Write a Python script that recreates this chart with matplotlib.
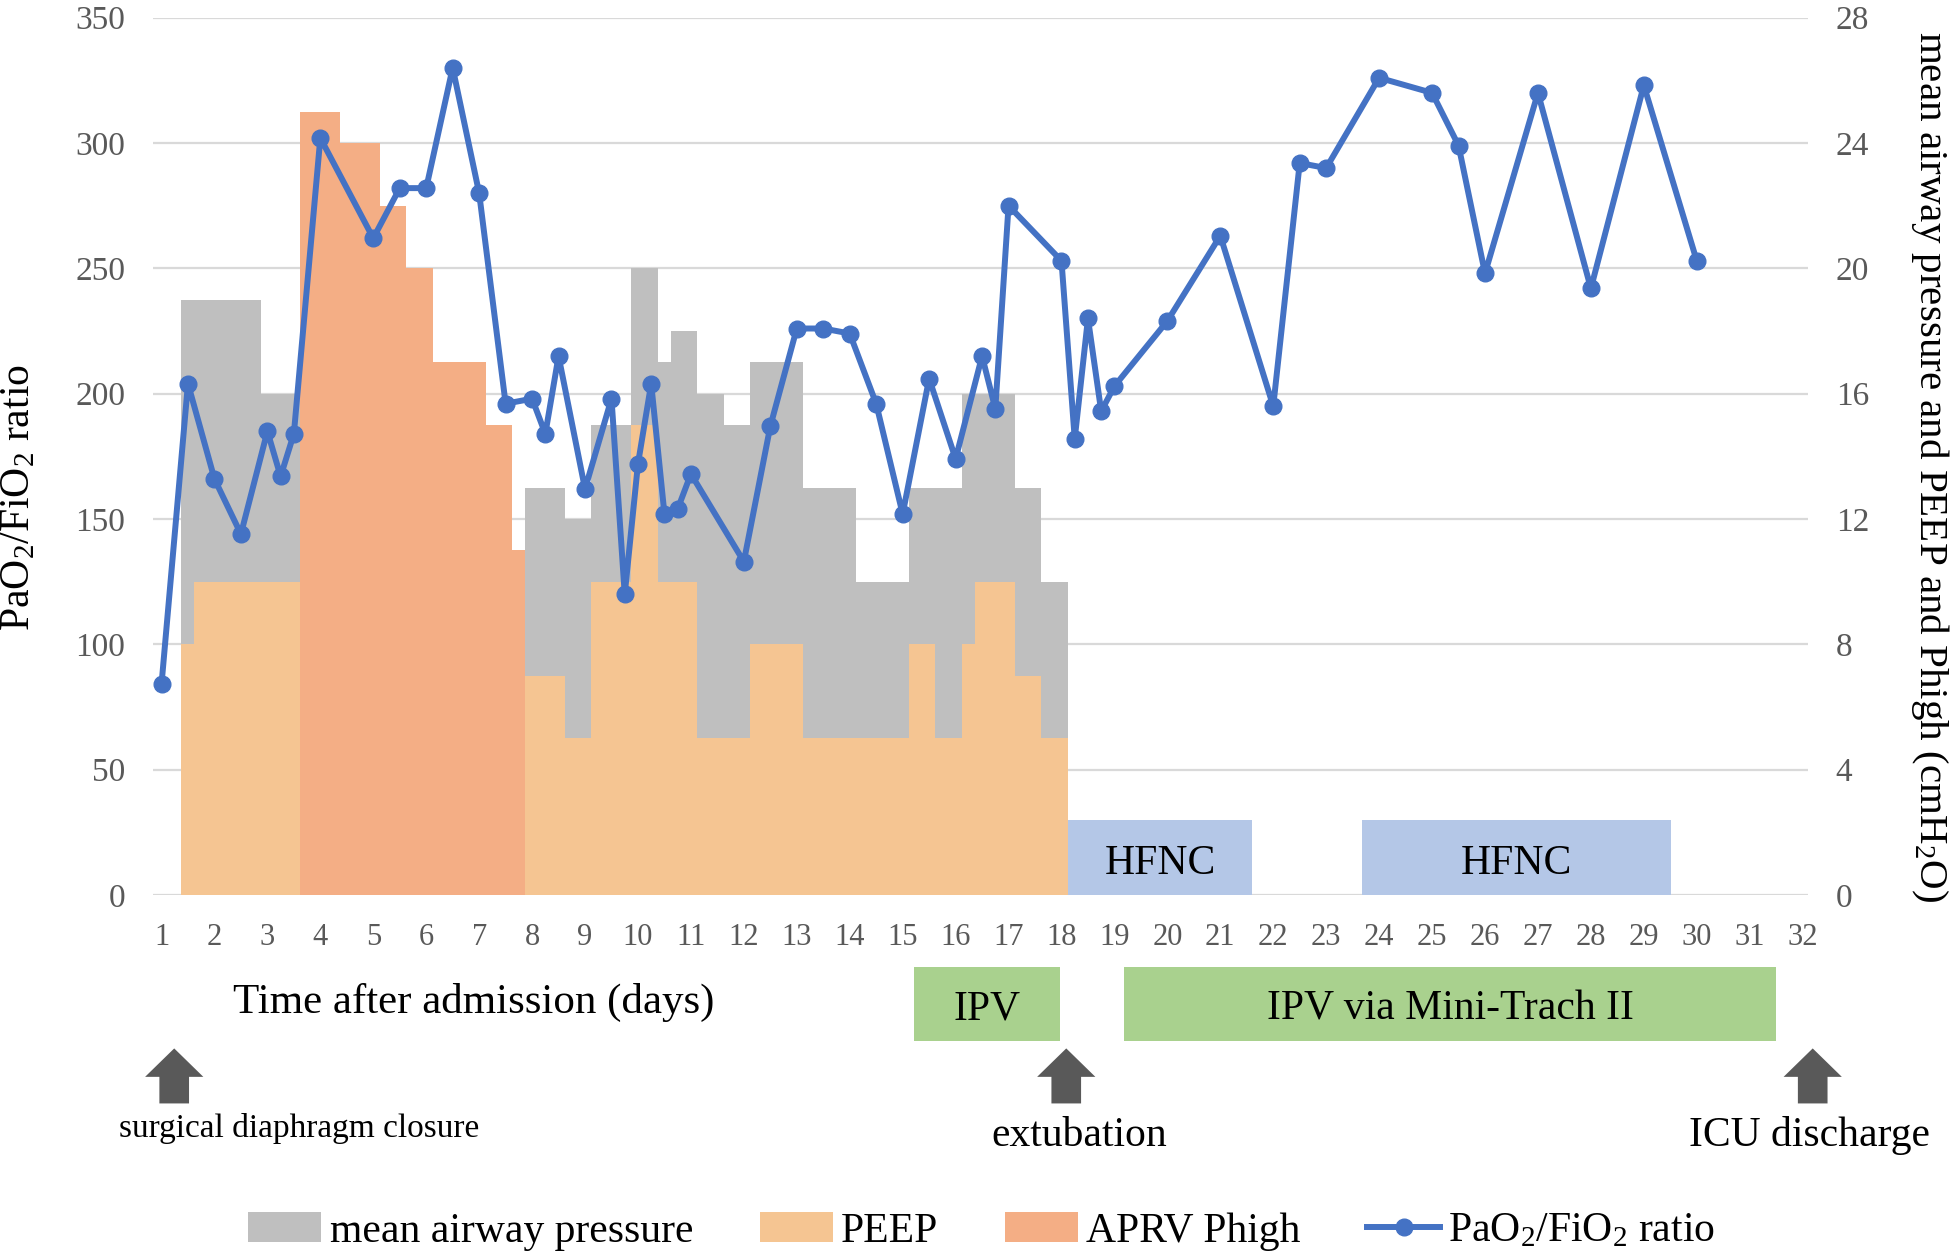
import numpy as np
import matplotlib.pyplot as plt
from matplotlib.patches import Patch, Polygon, Rectangle
from matplotlib.lines import Line2D

plt.rcParams['font.family'] = ['Liberation Serif', 'DejaVu Serif']
plt.rcParams['mathtext.fontset'] = 'custom'
plt.rcParams['mathtext.rm'] = 'Liberation Serif'
plt.rcParams['mathtext.it'] = 'Liberation Serif:italic'

# ventilator settings (cmH2O), step values between consecutive edges (days)
step_edges = [1.37, 1.62, 2.87, 3.62, 4.37, 5.12, 5.62, 6.12, 7.12, 7.62, 7.87,
              8.62, 9.12, 9.87, 10.37, 10.62, 11.12, 11.62, 12.12, 13.12, 14.12,
              15.12, 15.62, 16.12, 16.37, 17.12, 17.62, 18.12]
map_vals = [19, 19, 16, 0, 0, 0, 0, 0, 0, 0,
            13, 12, 15, 20, 17, 18, 16, 15, 17, 13, 10, 13, 13, 16, 16, 13, 10]
peep_vals = [8, 10, 10, 0, 0, 0, 0, 0, 0, 0,
             7, 5, 10, 15, 10, 10, 5, 5, 8, 5, 5, 8, 5, 8, 10, 7, 5]
phigh_vals = [0, 0, 0, 25, 24, 22, 20, 17, 15, 11,
              0, 0, 0, 0, 0, 0, 0, 0, 0, 0, 0, 0, 0, 0, 0, 0, 0]

# PaO2/FiO2 ratio
pf_days = [1, 1.5, 2, 2.5, 3, 3.25, 3.5, 4, 5, 5.5, 6, 6.5, 7, 7.5, 8, 8.25, 8.5,
           9, 9.5, 9.75, 10, 10.25, 10.5, 10.75, 11, 12, 12.5, 13, 13.5, 14, 14.5,
           15, 15.5, 16, 16.5, 16.75, 17, 18, 18.25, 18.5, 18.75, 19, 20, 21, 22,
           22.5, 23, 24, 25, 25.5, 26, 27, 28, 29, 30]
pf_ratio = [84, 204, 166, 144, 185, 167, 184, 302, 262, 282, 282, 330, 280, 196,
            198, 184, 215, 162, 198, 120, 172, 204, 152, 154, 168, 133, 187, 226,
            226, 224, 196, 152, 206, 174, 215, 194, 275, 253, 182, 230, 193, 203,
            229, 263, 195, 292, 290, 326, 320, 299, 248, 320, 242, 323, 253]

hfnc_start = [18.12, 23.68]
hfnc_end = [21.6, 29.52]
ipv_start = [15.21, 19.19]
ipv_end = [17.98, 31.49]
ipv_labels = ['IPV', 'IPV via Mini-Trach II']
event_days = [1.24, 18.09, 32.19]
event_text_x = [3.6, 18.33, 32.12]
event_labels = ['surgical diaphragm closure', 'extubation', 'ICU discharge']

c_map = '#BFBFBF'
c_peep = '#F5C592'
c_phigh = '#F4AE85'
c_line = '#4472C4'
c_hfnc = '#B4C7E7'
c_ipv = '#A9D18E'
c_tick = '#595959'

fig = plt.figure(figsize=(19.52, 12.52), dpi=100)
ax = fig.add_axes([0.0784, 0.2851, 0.8478, 0.7008])
ax2 = ax.twinx()
ax.set_zorder(2)
ax2.set_zorder(1)
ax.patch.set_visible(False)

# areas on the right axis
ax2.stairs(map_vals, step_edges, fill=True, color=c_map, lw=0)
ax2.stairs(peep_vals, step_edges, fill=True, color=c_peep, lw=0)
ax2.stairs(phigh_vals, step_edges, fill=True, color=c_phigh, lw=0)
for s, e in zip(hfnc_start, hfnc_end):
    ax2.bar(s, 2.4, width=e - s, align='edge', color=c_hfnc, lw=0)
    ax2.text((s + e) / 2, 1.0, 'HFNC', ha='center', va='center', fontsize=30)

ax2.set_ylim(0, 28)
ax2.set_yticks(range(0, 29, 4))
ax2.set_axisbelow(True)
ax2.grid(axis='y', color='#D9D9D9', lw=1.6)
ax2.tick_params(axis='y', length=0, pad=20, labelsize=24, labelcolor=c_tick)

# PaO2/FiO2 line on the left axis
ax.plot(pf_days, pf_ratio, color=c_line, lw=4.3, marker='o', ms=12)
ax.set_ylim(0, 350)
ax.set_yticks(range(0, 351, 50))
ax.set_xlim(0.84, 32.1)
ax.set_xticks(range(1, 33))
ax.tick_params(axis='y', length=0, pad=20, labelsize=24, labelcolor=c_tick)
ax.tick_params(axis='x', length=0, pad=20, labelsize=22, labelcolor=c_tick)
for a in (ax, ax2):
    for sp in a.spines.values():
        sp.set_visible(False)

fig.text(19 / 1952, 1 - 498 / 1252, 'PaO$_2$/FiO$_2$ ratio', rotation=90,
         ha='center', va='center', fontsize=30)
fig.text(1930 / 1952, 1 - 466 / 1252, 'mean airway pressure and PEEP and Phigh (cmH$_2$O)',
         rotation=270, ha='center', va='center', fontsize=29.5)

tr = ax.get_xaxis_transform()
ax.text(6.89, -0.122, 'Time after admission (days)', transform=tr,
        ha='center', va='center', fontsize=31)

for s, e, lab in zip(ipv_start, ipv_end, ipv_labels):
    ax.add_patch(Rectangle((s, -0.166), e - s, 0.0836, transform=tr,
                           color=c_ipv, lw=0, clip_on=False))
    ax.text((s + e) / 2, -0.130, lab, transform=tr, ha='center', va='center',
            fontsize=30)

for d, tx, lab in zip(event_days, event_text_x, event_labels):
    hw, sw = 0.55, 0.28
    pts = [(d, -0.1748), (d + hw, -0.2072), (d + sw, -0.2072), (d + sw, -0.2375),
           (d - sw, -0.2375), (d - sw, -0.2072), (d - hw, -0.2072)]
    ax.add_patch(Polygon(pts, closed=True, transform=tr, color=c_tick, lw=0,
                         clip_on=False))
    fs = 24 if lab.startswith('surgical') else 30
    ty = -0.266 if lab.startswith('surgical') else -0.274
    ax.text(tx, ty, lab, transform=tr, ha='center', va='center', fontsize=fs)

handles = [Patch(color=c_map, lw=0), Patch(color=c_peep, lw=0),
           Patch(color=c_phigh, lw=0),
           Line2D([], [], color=c_line, lw=4.3, marker='o', ms=12)]
labels = ['mean airway pressure', 'PEEP', 'APRV Phigh', 'PaO$_2$/FiO$_2$ ratio']
fig.legend(handles, labels, loc='center', bbox_to_anchor=(0.503, 0.0165), ncol=4,
           frameon=False, fontsize=30, handlelength=1.75, handleheight=0.72,
           handletextpad=0.2, columnspacing=1.6)

fig.savefig('out.png', dpi=100)
